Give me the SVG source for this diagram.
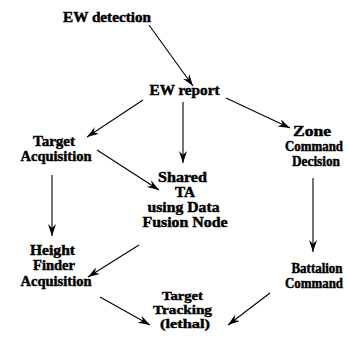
<svg xmlns="http://www.w3.org/2000/svg" width="347" height="341" viewBox="0 0 347 341">
<style>
text{font-family:"Liberation Serif","Times New Roman",serif;font-weight:bold;font-size:14px;fill:#000;stroke:#000;stroke-width:0.45;text-anchor:middle}
.sm{font-size:13.5px}
.c line{stroke:#000;stroke-width:1.1;marker-end:url(#ah)}
</style>
<defs>
<marker id="ah" viewBox="0 0 12 8" refX="12" refY="4" markerWidth="12" markerHeight="8" markerUnits="userSpaceOnUse" orient="auto">
<path d="M0,0 L12,4 L0,8 L4,4 z" fill="#000"/>
</marker>
</defs>
<rect width="347" height="341" fill="#fff"/>
<g class="c" id="connectors">
<line x1="149" y1="25" x2="193" y2="86"/>
<line x1="143" y1="100" x2="87" y2="137"/>
<line x1="183" y1="102" x2="183" y2="163"/>
<line x1="226" y1="98" x2="290" y2="128"/>
<line x1="97" y1="150" x2="159" y2="190"/>
<line x1="52" y1="175" x2="52" y2="236"/>
<line x1="139" y1="245" x2="88" y2="277"/>
<line x1="313" y1="178" x2="313" y2="252"/>
<line x1="100" y1="297" x2="150" y2="325"/>
<line x1="270" y1="293" x2="228" y2="325"/>
</g>
<g id="ew-detection"><text x="107" y="22" textLength="88" lengthAdjust="spacingAndGlyphs">EW detection</text></g>
<g id="ew-report"><text x="184.5" y="95" textLength="70" lengthAdjust="spacingAndGlyphs">EW report</text></g>
<g id="target-acquisition"><text x="54" y="146" textLength="42" lengthAdjust="spacingAndGlyphs">Target</text><text x="56" y="161" textLength="71" lengthAdjust="spacingAndGlyphs">Acquisition</text></g>
<g id="zone-command"><text x="312" y="136" textLength="38" lengthAdjust="spacingAndGlyphs">Zone</text><text x="314" y="151" textLength="58" lengthAdjust="spacingAndGlyphs">Command</text><text x="316" y="166" textLength="48" lengthAdjust="spacingAndGlyphs">Decision</text></g>
<g id="shared-ta"><text x="182.5" y="182" textLength="49" lengthAdjust="spacingAndGlyphs">Shared</text><text x="185" y="197" textLength="20" lengthAdjust="spacingAndGlyphs">TA</text><text x="183.5" y="212" textLength="72" lengthAdjust="spacingAndGlyphs">using Data</text><text x="185" y="227" textLength="85" lengthAdjust="spacingAndGlyphs">Fusion Node</text></g>
<g id="height-finder"><text x="52.5" y="255" textLength="45" lengthAdjust="spacingAndGlyphs">Height</text><text x="54" y="270" textLength="42" lengthAdjust="spacingAndGlyphs">Finder</text><text x="56" y="286" textLength="71" lengthAdjust="spacingAndGlyphs">Acquisition</text></g>
<g id="battalion"><text x="317" y="273" textLength="51" lengthAdjust="spacingAndGlyphs">Battalion</text><text x="314" y="288" textLength="58" lengthAdjust="spacingAndGlyphs">Command</text></g>
<g id="target-tracking"><text class="sm" x="182.5" y="300" textLength="41" lengthAdjust="spacingAndGlyphs">Target</text><text class="sm" x="182.5" y="314" textLength="59" lengthAdjust="spacingAndGlyphs">Tracking</text><text class="sm" x="185" y="328" textLength="50" lengthAdjust="spacingAndGlyphs">(lethal)</text></g>
</svg>
